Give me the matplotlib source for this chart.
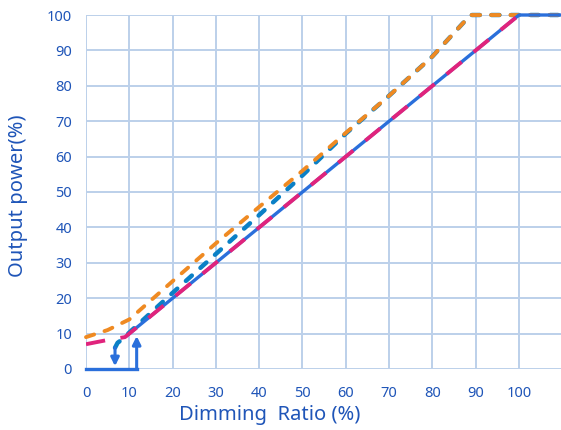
import matplotlib
matplotlib.use("Agg")
import matplotlib.pyplot as plt

plt.rcParams['font.family'] = ['Noto Sans', 'DejaVu Sans']

# curves (x = dimming ratio %, y = output power %)
solid_x = [0, 11.7]
solid_y = [0, 0]
diag_x = [9.5, 100, 110]
diag_y = [9.5, 100, 100]

orange_x = [0, 5, 10, 20, 30, 40, 50, 60, 70, 80, 88.8, 110]
orange_y = [9, 11, 14, 24.8, 35.5, 45.8, 56, 66.7, 77.2, 88.3, 100, 100]

teal_x = [6.7, 7.3, 8.5, 10, 20, 30, 40, 50, 60, 70, 80, 88.8, 110]
teal_y = [6, 7.4, 8.5, 10.3, 21.5, 32.5, 43.5, 54.7, 66.5, 77.2, 88.3, 100, 100]

magenta_x = [0, 5, 9, 100]
magenta_y = [7, 8.2, 9, 100]

# arrows: (x, y_start, y_end)
arrow_up = (11.7, 0, 9.3)
arrow_down = (6.7, 6, 0.8)

xticks = list(range(0, 101, 10))
yticks = list(range(0, 101, 10))

c_blue = '#2a6fdb'
c_teal = '#0a80c6'
c_orange = '#ef8a22'
c_mag = '#e0237c'
c_grid = '#bcd0ea'
c_text = '#1f55b8'

fig = plt.figure(figsize=(5.61, 4.30), dpi=100)
ax = fig.add_axes([0.1533, 0.1419, 0.849, 0.8232])

ax.plot(teal_x, teal_y, color=c_teal, lw=3.2, dashes=(1.8, 2.6),
        dash_capstyle='round', zorder=3, clip_on=False)
ax.plot(orange_x, orange_y, color=c_orange, lw=2.8, dashes=(2.2, 2.8),
        dash_capstyle='round', zorder=4, clip_on=False)
ax.plot(solid_x, solid_y, color=c_blue, lw=2.4, zorder=5, clip_on=False)
ax.plot(diag_x, diag_y, color=c_blue, lw=2.4, zorder=5, clip_on=False)
ax.plot(magenta_x, magenta_y, color=c_mag, lw=2.8, dashes=(5, 4), zorder=6)

for (x0, y0, y1) in [arrow_up, arrow_down]:
    ax.annotate('', xy=(x0, y1), xytext=(x0, y0),
                arrowprops=dict(arrowstyle='-|>', color=c_blue, lw=2.2,
                                mutation_scale=12, shrinkA=0, shrinkB=0),
                zorder=7, annotation_clip=False)

ax.set_xlim(0, 110)
ax.set_ylim(0, 100)
ax.set_xticks(xticks)
ax.set_yticks(yticks)
ax.grid(True, color=c_grid, lw=1.4)
ax.set_axisbelow(True)
for s in ax.spines.values():
    s.set_visible(False)
ax.tick_params(length=0, colors=c_text, labelsize=10.5)
ax.tick_params(axis='x', pad=12)
ax.tick_params(axis='y', pad=10)

fig.text(0.481, 0.035, 'Dimming  Ratio (%)', fontsize=14.5, color=c_text,
         ha='center', va='center')
fig.text(0.032, 0.544, 'Output power(%)', fontsize=14.5, color=c_text,
         ha='center', va='center', rotation=90)

fig.savefig('out.png', dpi=100)
